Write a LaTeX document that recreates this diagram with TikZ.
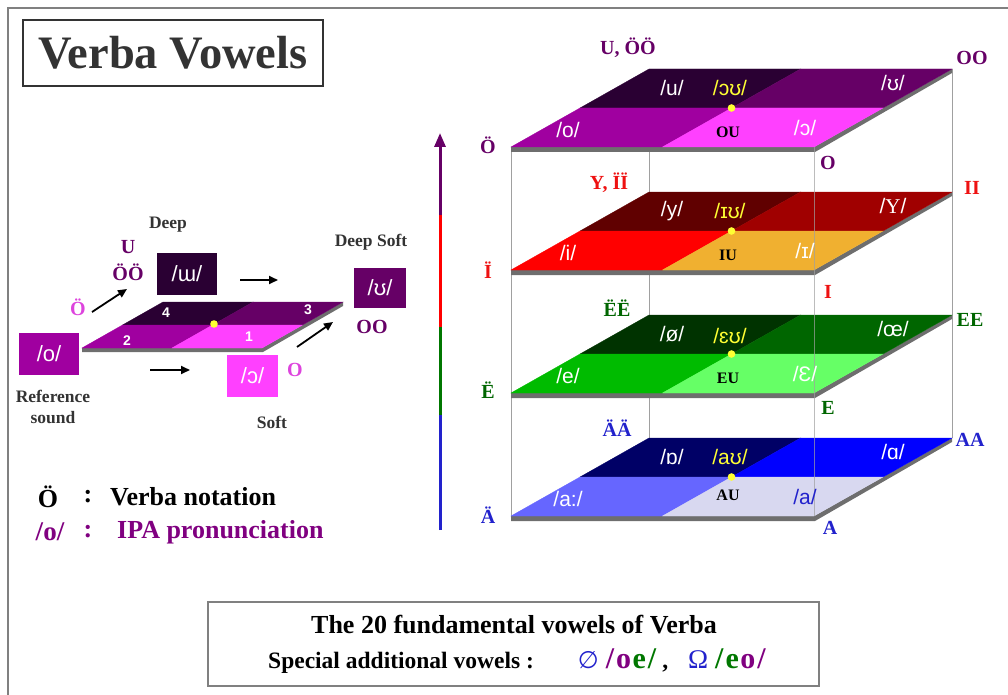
\documentclass[tikz,border=0pt]{standalone}
\usepackage{fontspec}
\setmainfont{Liberation Serif}
\newfontfamily\ipafont{Liberation Sans}
\newfontfamily\symfont{DejaVu Sans}
\usetikzlibrary{arrows.meta,calc}
\definecolor{pdark}{HTML}{2A0033}
\definecolor{pmid}{HTML}{660066}
\definecolor{pfl}{HTML}{A000A0}
\definecolor{pfr}{HTML}{FF40FF}
\definecolor{rbl}{HTML}{600000}
\definecolor{rbr}{HTML}{A00000}
\definecolor{rfl}{HTML}{FF0000}
\definecolor{rfr}{HTML}{F0B030}
\definecolor{gbl}{HTML}{003300}
\definecolor{gbr}{HTML}{006600}
\definecolor{gfl}{HTML}{00BB00}
\definecolor{gfr}{HTML}{66FF66}
\definecolor{bbl}{HTML}{000066}
\definecolor{bbr}{HTML}{0000FF}
\definecolor{bfl}{HTML}{6666FF}
\definecolor{bfr}{HTML}{D8D8F0}
\definecolor{labp}{HTML}{660066}
\definecolor{labr}{HTML}{EE1111}
\definecolor{labg}{HTML}{006600}
\definecolor{labb}{HTML}{2222CC}
\definecolor{ipay}{HTML}{FFFF33}
\definecolor{edgegray}{HTML}{6E6E6E}
\definecolor{framegray}{HTML}{808080}
\definecolor{linegray}{HTML}{A0A0A0}
\definecolor{txtdark}{HTML}{333333}
\definecolor{pinklab}{HTML}{DD44DD}
\definecolor{legp}{HTML}{800080}
\definecolor{vgreen}{HTML}{007700}
\newcommand\vvlayer[5]{%
 \fill[edgegray] (511,#1) -- (814,#1) -- (952,#1-78) -- (952,#1-74) -- (815,#1+5) -- (511,#1+5) -- cycle;
 \filldraw[#2,line width=0.3pt] (649,#1-78) -- (800.5,#1-78) -- (731.5,#1-39) -- (580,#1-39) -- cycle;
 \filldraw[#3,line width=0.3pt] (800.5,#1-78) -- (952,#1-78) -- (883,#1-39) -- (731.5,#1-39) -- cycle;
 \filldraw[#4,line width=0.3pt] (580,#1-39) -- (731.5,#1-39) -- (662.5,#1) -- (511,#1) -- cycle;
 \filldraw[#5,line width=0.3pt] (731.5,#1-39) -- (883,#1-39) -- (814,#1) -- (662.5,#1) -- cycle;
 \fill[ipay] (731.5,#1-39) circle (3.8pt);
}
\tikzset{
 ipa/.style={font=\ipafont\fontsize{21pt}{21pt}\selectfont, text=white, inner sep=0pt},
 diph/.style={font=\bfseries\fontsize{16pt}{16pt}\selectfont, text=black, inner sep=0pt},
 corner/.style={font=\bfseries\fontsize{20pt}{20pt}\selectfont, inner sep=0pt},
 lab/.style={font=\bfseries\fontsize{17.5pt}{21pt}\selectfont, text=txtdark, inner sep=0pt},
 numlab/.style={font=\ipafont\bfseries\fontsize{14pt}{14pt}\selectfont, text=white, inner sep=0pt},
 soundbox/.style={font=\ipafont\fontsize{22pt}{22pt}\selectfont, text=white, inner sep=0pt},
 myarrow/.style={line width=1.8pt, -{Triangle[length=9pt,width=8pt]}},
 leg/.style={font=\bfseries\fontsize{26pt}{26pt}\selectfont, inner sep=0pt},
}
\begin{document}
\begin{tikzpicture}[x=1pt,y=-1pt]
\useasboundingbox (0,0) rectangle (1008,695);
% frame
\draw[framegray, line width=2pt] (8,695) -- (8,8) -- (1008,8);
% title
\node[draw=txtdark, line width=1.5pt, minimum width=300pt, minimum height=66pt, inner sep=0pt,
      font=\bfseries\fontsize{46.5pt}{46.5pt}\selectfont, text=txtdark] (title) at (173,53) {Verba Vowels};

% ================= right stack =================
\draw[linegray, line width=1pt] (511,147) -- (511,516);
\draw[linegray, line width=1pt] (649,69) -- (649,438);
\draw[linegray, line width=1pt] (952,69) -- (952,438);
\vvlayer{516}{bbl}{bbr}{bfl}{bfr}
\vvlayer{393}{gbl}{gbr}{gfl}{gfr}
\vvlayer{270}{rbl}{rbr}{rfl}{rfr}
\vvlayer{147}{pdark}{pmid}{pfl}{pfr}
\draw[linegray, line width=0.9pt, opacity=0.7] (814,147) -- (814,516);

% top layer labels
\node[ipa] (tu) at (672,88) {/u/};
\node[ipa, text=ipay] (tou) at (730,88) {/ɔʊ/};
\node[ipa] (tuu) at (893,83) {/ʊ/};
\node[ipa] (to) at (568,130) {/o/};
\node[diph] (tOU) at (728,132) {OU};
\node[ipa] (too) at (805,128) {/ɔ/};
\node[corner, text=labp] (cUOO) at (628,48) {U, ÖÖ};
\node[corner, text=labp] (cOO) at (972,58) {OO};
\node[corner, text=labp] (cOe) at (488,145) {Ö};
\node[corner, text=labp] (cO) at (828,163) {O};

% red layer labels
\node[ipa] (ry) at (672,211) {/y/};
\node[ipa, text=ipay] (riu) at (730,211) {/ɪʊ/};
\node[ipa] (rY) at (893,206) {/\textrm{Y}/};
\node[ipa] (ri) at (568,253) {/i/};
\node[diph] (rIU) at (728,255) {IU};
\node[ipa] (rI) at (805,251) {/ɪ/};
\node[corner, text=labr] (cYII) at (609,183) {Y, ÏÏ};
\node[corner, text=labr] (cII) at (972,188) {II};
\node[corner, text=labr] (cIe) at (488,270) {Ï};
\node[corner, text=labr] (cI) at (828,292) {I};

% green layer labels
\node[ipa] (go) at (672,334) {/ø/};
\node[ipa, text=ipay] (geu) at (730,336) {/ɛʊ/};
\node[ipa] (goe) at (893,329) {/œ/};
\node[ipa] (ge) at (568,376) {/e/};
\node[diph] (gEU) at (728,378) {EU};
\node[ipa] (gE) at (805,374) {/Ɛ/};
\node[corner, text=labg] (cEEl) at (617,308) {ËË};
\node[corner, text=labg] (cEE) at (970,320) {EE};
\node[corner, text=labg] (cEe) at (488,390) {Ë};
\node[corner, text=labg] (cE) at (828,408) {E};

% blue layer labels
\node[ipa] (bo) at (672,457) {/ɒ/};
\node[ipa, text=ipay] (bau) at (730,457) {/aʊ/};
\node[ipa] (ba) at (893,452) {/ɑ/};
\node[ipa] (baa) at (568,499) {/a:/};
\node[diph] (bAU) at (728,495) {AU};
\node[ipa, text=labb] (bA) at (805,497) {/a/};
\node[corner, text=labb] (cAAl) at (617,428) {ÄÄ};
\node[corner, text=labb] (cAA) at (970,440) {AA};
\node[corner, text=labb] (cAe) at (488,515) {Ä};
\node[corner, text=labb] (cA) at (830,528) {A};

% vertical arrow
\coordinate (va0) at (440,530);
\coordinate (va1) at (440,415);
\coordinate (va2) at (440,327);
\coordinate (va3) at (440,215);
\coordinate (vatip) at (440,133);
\draw[labb, line width=3pt] (va0) -- (va1);
\draw[vgreen, line width=3pt] (va1) -- (va2);
\draw[rfl, line width=3pt] (va2) -- (va3);
\draw[labp, line width=3pt, -{Triangle[length=14pt,width=11pt]}] (va3) -- (vatip);

% ================= left diagram =================
\fill[edgegray] (82,348) -- (262,348) -- (343,302) -- (343,306) -- (263,352) -- (82,352) -- cycle;
\filldraw[pdark,line width=0.3pt] (163,302) -- (253,302) -- (212.5,325) -- (122.5,325) -- cycle;
\filldraw[pmid,line width=0.3pt] (253,302) -- (343,302) -- (302.5,325) -- (212.5,325) -- cycle;
\filldraw[pfl,line width=0.3pt] (122.5,325) -- (212.5,325) -- (172,348) -- (82,348) -- cycle;
\filldraw[pfr,line width=0.3pt] (212.5,325) -- (302.5,325) -- (262,348) -- (172,348) -- cycle;
\fill[ipay] (214,324) circle (3.8pt);
\node[numlab] (n4) at (166,313) {4};
\node[numlab] (n3) at (308,310) {3};
\node[numlab] (n2) at (127,341) {2};
\node[numlab] (n1) at (249,337) {1};

\node[soundbox, fill=pfl, minimum width=60pt, minimum height=42pt] (sbo) at (49,354) {/o/};
\node[soundbox, fill=pdark, minimum width=60pt, minimum height=42pt] (sbu) at (187,274) {/ɯ/};
\node[soundbox, fill=pmid, minimum width=52pt, minimum height=40pt] (sbuu) at (380,288) {/ʊ/};
\node[soundbox, fill=pfr, minimum width=51pt, minimum height=42pt] (sboo) at (252.5,376) {/ɔ/};

\node[lab] (deep) at (168,225) {Deep};
\node[lab] (deepsoft) at (371,242) {Deep Soft};
\node[lab] (soft) at (272,422) {Soft};
\node[lab, align=center] (refsnd) at (53,407) {Reference\\sound};
\node[corner, text=labp] (lU) at (128,247) {U};
\node[corner, text=labp] (lOO) at (128,272) {ÖÖ};
\node[corner, text=labp] (lOOr) at (372,327) {OO};
\node[corner, text=pinklab] (lOe) at (78,307) {Ö};
\node[corner, text=pinklab] (lO) at (295,370) {O};

\coordinate (a1s) at (92,312); \coordinate (a1e) at (127,289);
\coordinate (a2s) at (240,280); \coordinate (a2e) at (278,280);
\coordinate (a3s) at (150,370); \coordinate (a3e) at (190,370);
\coordinate (a4s) at (297,347); \coordinate (a4e) at (333,322);
\draw[myarrow] (a1s) -- (a1e);
\draw[myarrow] (a2s) -- (a2e);
\draw[myarrow] (a3s) -- (a3e);
\draw[myarrow] (a4s) -- (a4e);

% legend
\node[leg, text=black] (legO) at (48,497) {Ö};
\node[leg, text=black] (legc1) at (88,497) {:};
\node[leg, text=black, anchor=west] (legV) at (110,497) {Verba notation};
\node[leg, text=legp, font=\bfseries\fontsize{27pt}{27pt}\selectfont] (lego) at (50,532) {/o/};
\node[leg, text=legp] (legc2) at (88,532) {:};
\node[leg, text=legp, anchor=west] (legI) at (117,532) {IPA pronunciation};

% bottom box
\draw[framegray, line width=1.5pt] (208,602) rectangle (819,686);
\node[leg, text=black] (bl1) at (514,625) {The 20 fundamental vowels of Verba};
\node[leg, text=black, anchor=base west, font=\bfseries\fontsize{23.5pt}{23.5pt}\selectfont] (bl2) at (268,668) {Special additional vowels :\hspace{44pt}{\mdseries\color{labb}\symfont\fontsize{24pt}{24pt}\selectfont ∅}\hspace{7pt}{\fontsize{30pt}{30pt}\selectfont\color{legp}/\kern2pt o\kern1.5pt\color{vgreen}e\kern2pt/}\hspace{6pt},\hspace{20pt}{\mdseries\color{labb}\fontsize{27pt}{27pt}\selectfont Ω}\hspace{7pt}{\fontsize{30pt}{30pt}\selectfont\color{vgreen}/\kern2pt e\kern1.5pt\color{legp}o\kern2pt/}};
\end{tikzpicture}
\end{document}
